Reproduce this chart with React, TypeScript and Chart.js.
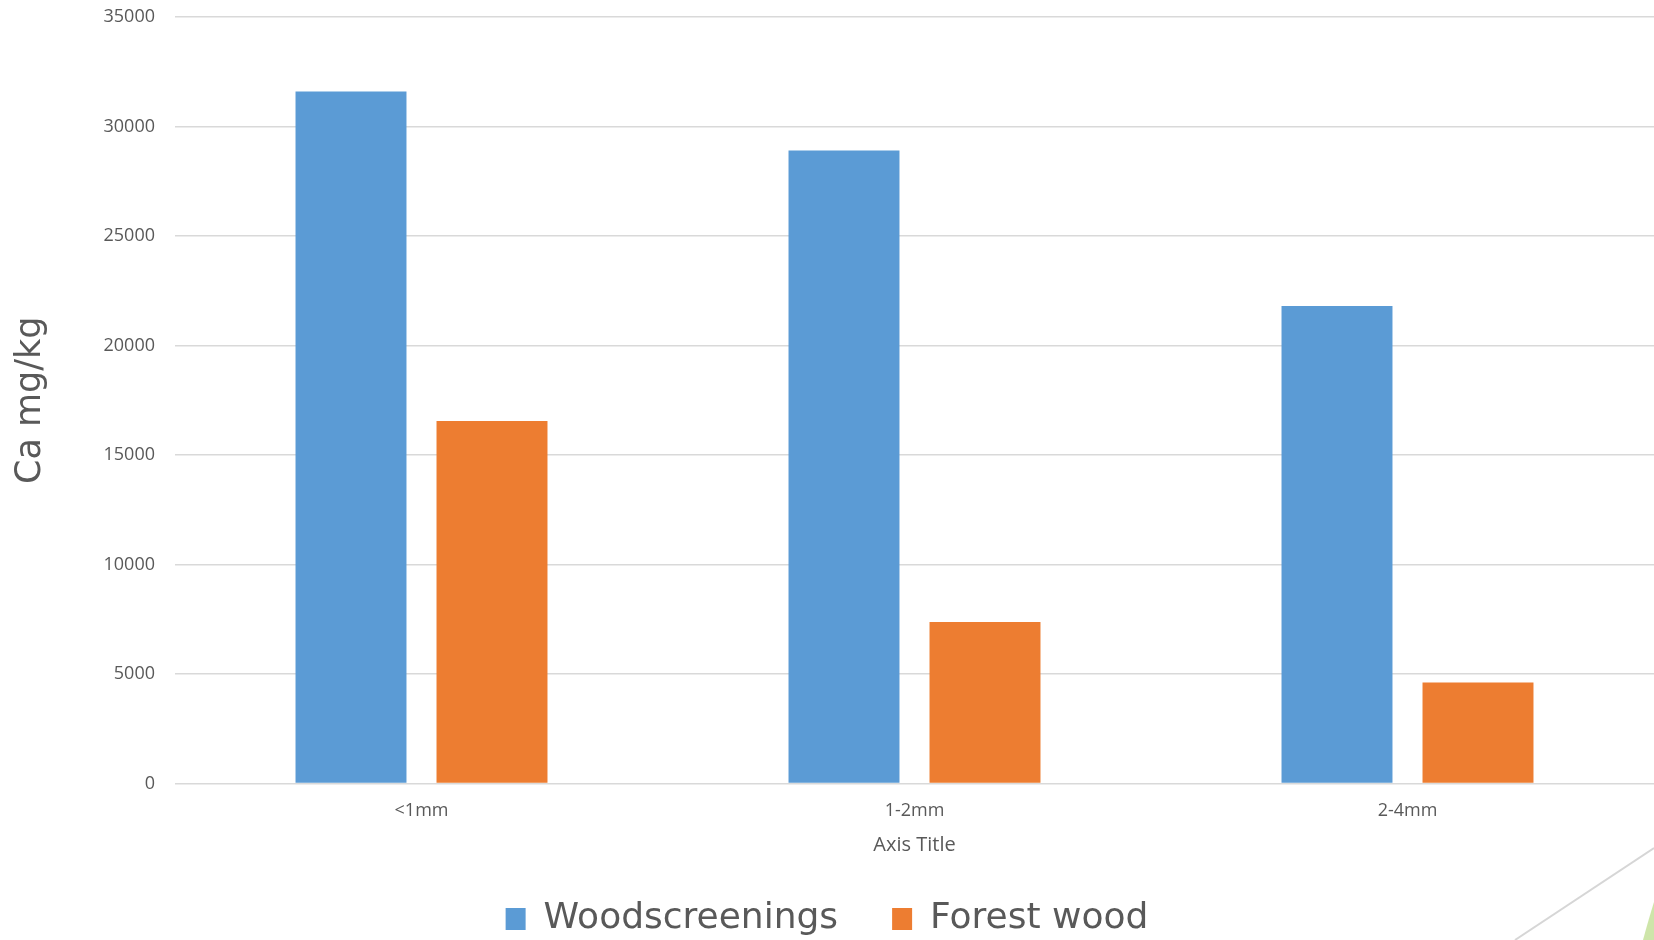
import { useEffect, useRef } from "react";
import { Chart, registerables } from "chart.js";

Chart.register(...registerables);

const categories = ["<1mm", "1-2mm", "2-4mm"];
const woodscreenings = [31600, 28900, 21800];
const forestWood = [16550, 7380, 4610];
const seriesLabels = ["Woodscreenings", "Forest wood"];
const seriesColors = ["#5B9BD5", "#ED7D31"];
const yMax = 35000;
const yStep = 5000;

const textGray = "#595959";
const gridGray = "#D9D9D9";

// Slide ornament in the lower right corner (thin rule and a green wedge).
const cornerOrnament = {
  id: "cornerOrnament",
  afterDraw(chart: Chart) {
    const { ctx, width, height } = chart;
    ctx.save();
    ctx.strokeStyle = "#D6D6D6";
    ctx.lineWidth = 2;
    ctx.beginPath();
    ctx.moveTo(width - 139, height);
    ctx.lineTo(width, height - 92);
    ctx.stroke();
    ctx.fillStyle = "rgba(190, 220, 140, 0.75)";
    ctx.beginPath();
    ctx.moveTo(width - 11, height);
    ctx.quadraticCurveTo(width - 5, height - 22, width, height - 38);
    ctx.lineTo(width, height);
    ctx.closePath();
    ctx.fill();
    ctx.restore();
  },
};

export default function App() {
  const canvasRef = useRef<HTMLCanvasElement | null>(null);

  useEffect(() => {
    if (!canvasRef.current) return;
    const chart = new Chart(canvasRef.current, {
      type: "bar",
      data: {
        labels: categories,
        datasets: [
          {
            label: seriesLabels[0],
            data: woodscreenings,
            backgroundColor: seriesColors[0],
            borderWidth: 0,
          },
          {
            label: seriesLabels[1],
            data: forestWood,
            backgroundColor: seriesColors[1],
            borderWidth: 0,
          },
        ],
      },
      options: {
        animation: false,
        responsive: false,
        maintainAspectRatio: false,
        datasets: {
          bar: {
            categoryPercentage: 0.572,
            barPercentage: 0.787,
          },
        },
        layout: { padding: { top: 17, right: 0, bottom: 0, left: 0 } },
        plugins: {
          tooltip: { enabled: false },
          legend: {
            position: "bottom",
            maxHeight: 93,
            labels: {
              color: textGray,
              font: { family: "DejaVu Sans", size: 36 },
              boxWidth: 20,
              boxHeight: 22,
              padding: 54,
            },
          },
        },
        scales: {
          x: {
            grid: { display: false, drawTicks: false },
            border: { display: false },
            ticks: {
              color: textGray,
              font: { family: "Open Sans", size: 18 },
              padding: 17,
            },
            title: {
              display: true,
              text: "Axis Title",
              color: textGray,
              font: { family: "Open Sans", size: 20 },
              padding: { top: 0, bottom: -10 },
            },
            afterFit(scale: any) {
              scale.height = 63.5;
            },
          },
          y: {
            min: 0,
            max: yMax,
            grid: { color: gridGray, lineWidth: 1.4, drawTicks: false },
            border: { display: false },
            ticks: {
              stepSize: yStep,
              color: textGray,
              font: { family: "Open Sans", size: 18 },
              padding: 20,
              callback: (v: any) => String(v),
            },
            title: {
              display: true,
              text: "Ca mg/kg",
              color: textGray,
              font: { family: "DejaVu Sans", size: 35 },
              padding: { top: 10, bottom: 0 },
            },
            afterFit(scale: any) {
              scale.width = 175;
              scale.paddingTop = 0;
              scale.paddingBottom = 0;
            },
          },
        },
      },
      plugins: [cornerOrnament],
    });
    return () => chart.destroy();
  }, []);

  return (
    <div
      style={{
        position: "fixed",
        left: 0,
        top: 0,
        width: 1654,
        height: 940,
        background: "#FFFFFF",
      }}
    >
      <canvas ref={canvasRef} width={1654} height={940} />
    </div>
  );
}
